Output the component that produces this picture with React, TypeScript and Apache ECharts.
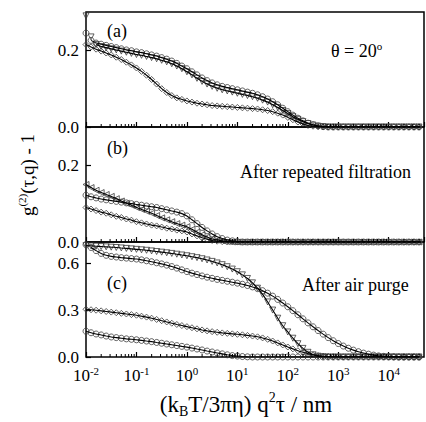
import React, { useEffect, useRef } from "react";
import * as echarts from "echarts";

// log10 of (kBT/3πη) q²τ in nm
const logTau = [
  -2.0, -1.9, -1.8, -1.7, -1.6, -1.5, -1.4, -1.3, -1.2, -1.1,
  -1.0, -0.9, -0.8, -0.7, -0.6, -0.5, -0.4, -0.3, -0.2, -0.1,
  0.0, 0.1, 0.2, 0.3, 0.4, 0.5, 0.6, 0.7, 0.8, 0.9,
  1.0, 1.1, 1.2, 1.3, 1.4, 1.5, 1.6, 1.7, 1.8, 1.9,
  2.0, 2.1, 2.2, 2.3, 2.4, 2.5, 2.6, 2.7, 2.8, 2.9,
  3.0, 3.1, 3.2, 3.3, 3.4, 3.5, 3.6, 3.7, 3.8, 3.9,
  4.0, 4.1, 4.2, 4.3, 4.4, 4.5, 4.6,
];

// Panel (a)
const a1 = [
  0.245, 0.226, 0.219, 0.216, 0.213, 0.210, 0.207, 0.204, 0.201, 0.199,
  0.196, 0.194, 0.191, 0.188, 0.185, 0.181, 0.177, 0.172, 0.166, 0.159,
  0.152, 0.144, 0.136, 0.128, 0.121, 0.115, 0.110, 0.106, 0.103, 0.100,
  0.097, 0.094, 0.091, 0.088, 0.084, 0.079, 0.073, 0.066, 0.058, 0.049,
  0.040, 0.031, 0.023, 0.016, 0.010, 0.006, 0.003, 0.001, 0, 0,
  0, 0, 0, 0, 0, 0, 0, 0, 0, 0,
  0, 0, 0, 0, 0, 0, 0,
];
const a2 = [
  0.290, 0.235, 0.215, 0.210, 0.207, 0.204, 0.201, 0.198, 0.195, 0.192,
  0.189, 0.187, 0.184, 0.181, 0.178, 0.174, 0.170, 0.165, 0.159, 0.152,
  0.144, 0.136, 0.127, 0.119, 0.112, 0.106, 0.101, 0.097, 0.094, 0.091,
  0.088, 0.085, 0.082, 0.079, 0.075, 0.070, 0.065, 0.058, 0.051, 0.043,
  0.035, 0.027, 0.020, 0.014, 0.009, 0.005, 0.002, 0.001, 0, 0,
  0, 0, 0, 0, 0, 0, 0, 0, 0, 0,
  0, 0, 0, 0, 0, 0, 0,
];
const a3 = [
  0.215, 0.209, 0.203, 0.198, 0.193, 0.188, 0.182, 0.176, 0.169, 0.162,
  0.154, 0.145, 0.135, 0.124, 0.112, 0.100, 0.090, 0.082, 0.076, 0.072,
  0.068, 0.065, 0.062, 0.060, 0.058, 0.056, 0.055, 0.054, 0.053, 0.052,
  0.051, 0.050, 0.049, 0.048, 0.047, 0.045, 0.043, 0.040, 0.036, 0.031,
  0.025, 0.019, 0.013, 0.008, 0.004, 0.002, 0.001, 0, 0, 0,
  0, 0, 0, 0, 0, 0, 0, 0, 0, 0,
  0, 0, 0, 0, 0, 0, 0,
];

// Panel (b)
const b1 = [
  0.122, 0.118, 0.115, 0.112, 0.110, 0.108, 0.106, 0.104, 0.102, 0.100,
  0.098, 0.096, 0.094, 0.092, 0.090, 0.087, 0.084, 0.081, 0.078, 0.074,
  0.068, 0.058, 0.048, 0.038, 0.029, 0.021, 0.014, 0.009, 0.005, 0.003,
  0.001, 0, 0, 0, 0, 0, 0, 0, 0, 0,
  0, 0, 0, 0, 0, 0, 0, 0, 0, 0,
  0, 0, 0, 0, 0, 0, 0, 0, 0, 0,
  0, 0, 0, 0, 0, 0, 0,
];
const b2 = [
  0.150, 0.142, 0.135, 0.129, 0.124, 0.119, 0.113, 0.107, 0.101, 0.096,
  0.090, 0.085, 0.080, 0.075, 0.069, 0.063, 0.058, 0.053, 0.048, 0.044,
  0.040, 0.033, 0.026, 0.019, 0.013, 0.008, 0.005, 0.003, 0.001, 0,
  0, 0, 0, 0, 0, 0, 0, 0, 0, 0,
  0, 0, 0, 0, 0, 0, 0, 0, 0, 0,
  0, 0, 0, 0, 0, 0, 0, 0, 0, 0,
  0, 0, 0, 0, 0, 0, 0,
];
const b3 = [
  0.090, 0.086, 0.082, 0.078, 0.075, 0.071, 0.067, 0.064, 0.060, 0.057,
  0.053, 0.050, 0.047, 0.044, 0.042, 0.039, 0.036, 0.034, 0.031, 0.029,
  0.026, 0.021, 0.016, 0.011, 0.007, 0.004, 0.002, 0.001, 0, 0,
  0, 0, 0, 0, 0, 0, 0, 0, 0, 0,
  0, 0, 0, 0, 0, 0, 0, 0, 0, 0,
  0, 0, 0, 0, 0, 0, 0, 0, 0, 0,
  0, 0, 0, 0, 0, 0, 0,
];

// Panel (c)
const c1 = [
  0.712, 0.710, 0.708, 0.706, 0.704, 0.702, 0.700, 0.697, 0.694, 0.691,
  0.688, 0.685, 0.682, 0.678, 0.674, 0.670, 0.666, 0.662, 0.657, 0.652,
  0.647, 0.641, 0.635, 0.628, 0.620, 0.611, 0.601, 0.590, 0.577, 0.562,
  0.545, 0.525, 0.502, 0.474, 0.440, 0.400, 0.352, 0.300, 0.248, 0.200,
  0.160, 0.120, 0.085, 0.055, 0.030, 0.014, 0.005, 0.002, 0, 0,
  0, 0, 0, 0, 0, 0, 0, 0, 0, 0,
  0, 0, 0, 0, 0, 0, 0,
];
const c2 = [
  0.718, 0.700, 0.680, 0.662, 0.650, 0.643, 0.639, 0.635, 0.632, 0.629,
  0.626, 0.621, 0.615, 0.609, 0.602, 0.595, 0.587, 0.578, 0.568, 0.557,
  0.546, 0.536, 0.527, 0.518, 0.510, 0.503, 0.496, 0.490, 0.484, 0.478,
  0.472, 0.465, 0.457, 0.448, 0.437, 0.424, 0.408, 0.389, 0.368, 0.345,
  0.321, 0.296, 0.270, 0.244, 0.218, 0.193, 0.169, 0.146, 0.124, 0.104,
  0.086, 0.070, 0.056, 0.044, 0.034, 0.025, 0.018, 0.012, 0.007, 0.004,
  0.002, 0.001, 0, 0, 0, 0, 0,
];
const c3 = [
  0.305, 0.302, 0.299, 0.295, 0.291, 0.287, 0.283, 0.279, 0.275, 0.271,
  0.267, 0.261, 0.255, 0.248, 0.240, 0.232, 0.224, 0.216, 0.208, 0.201,
  0.194, 0.187, 0.180, 0.173, 0.167, 0.162, 0.158, 0.154, 0.151, 0.148,
  0.145, 0.142, 0.138, 0.134, 0.129, 0.122, 0.113, 0.102, 0.090, 0.077,
  0.064, 0.052, 0.040, 0.030, 0.021, 0.014, 0.009, 0.005, 0.003, 0.001,
  0, 0, 0, 0, 0, 0, 0, 0, 0, 0,
  0, 0, 0, 0, 0, 0, 0,
];
const c4 = [
  0.165, 0.155, 0.147, 0.141, 0.134, 0.128, 0.124, 0.120, 0.116, 0.113,
  0.110, 0.106, 0.102, 0.098, 0.093, 0.088, 0.083, 0.078, 0.073, 0.068,
  0.063, 0.057, 0.051, 0.045, 0.038, 0.032, 0.026, 0.020, 0.014, 0.009,
  0.006, 0.003, 0.001, 0, 0, 0, 0, 0, 0, 0,
  0, 0, 0, 0, 0, 0, 0, 0, 0, 0,
  0, 0, 0, 0, 0, 0, 0, 0, 0, 0,
  0, 0, 0, 0, 0, 0, 0,
];

const yMax = [0.3, 0.3, 0.735];
const yInterval = [0.2, 0.2, 0.3];
const xMin = 0.01;
const xMax = 50000;

const FONT = '"Liberation Serif", "Times New Roman", serif';

function buildMinorTicks(): number[] {
  const out: number[] = [];
  for (let k = -2; k <= 4; k++) {
    for (let m = 2; m <= 9; m++) {
      const v = m * Math.pow(10, k);
      if (v < xMax) out.push(v);
    }
  }
  return out;
}

export default function App() {
  const ref = useRef<HTMLDivElement>(null);

  useEffect(() => {
    const chart = echarts.init(ref.current!, null, { renderer: "svg" });

    const grids = [0, 1, 2].map((i) => ({
      left: 86,
      top: 12 + i * 115,
      width: 338,
      height: 115,
      show: true,
      borderColor: "#000",
      borderWidth: 1.5,
      backgroundColor: "transparent",
    }));

    const xAxes = [0, 1, 2].map((i) => ({
      type: "log",
      logBase: 10,
      gridIndex: i,
      min: xMin,
      max: xMax,
      axisLine: { show: false },
      axisTick: { show: true, inside: true, length: 5, lineStyle: { color: "#000", width: 1.2 } },
      splitLine: { show: false },
      axisLabel: {
        show: i === 2,
        margin: 8,
        showMaxLabel: false,
        color: "#000",
        formatter: (v: number) => `{b|10}{s|${Math.round(Math.log10(v))}}`,
        rich: {
          b: { fontFamily: FONT, fontSize: 17, lineHeight: 20, color: "#000" },
          s: { fontFamily: FONT, fontSize: 11, lineHeight: 11, verticalAlign: "top", color: "#000" },
        },
      },
    }));

    const yAxes = [0, 1, 2].map((i) => ({
      type: "value",
      gridIndex: i,
      min: 0,
      max: yMax[i],
      interval: yInterval[i],
      axisLine: { show: false },
      axisTick: { show: true, inside: true, length: 5, lineStyle: { color: "#000", width: 1.2 } },
      splitLine: { show: false },
      axisLabel: {
        margin: 7,
        showMaxLabel: false,
        color: "#000",
        fontFamily: FONT,
        fontSize: 17,
        formatter: (v: number) => v.toFixed(1),
      },
    }));

    const pts = (vals: number[]) => logTau.map((e, i) => [Math.pow(10, e), vals[i]]);

    // data markers
    const marks = (vals: number[], idx: number, symbol: string, rotate: number) => ({
      type: "scatter",
      xAxisIndex: idx,
      yAxisIndex: idx,
      data: pts(vals),
      symbol,
      symbolSize: 6,
      symbolRotate: rotate,
      silent: true,
      z: 2,
      emphasis: { disabled: true },
      itemStyle: { color: "rgba(0,0,0,0)", borderColor: "#3a3a3a", borderWidth: 0.8, opacity: 1 },
    });

    // fitted curves (skip leading outlier points)
    const fit = (vals: number[], idx: number, from: number) => ({
      type: "line",
      xAxisIndex: idx,
      yAxisIndex: idx,
      data: pts(vals).slice(from),
      showSymbol: false,
      smooth: 0.2,
      silent: true,
      z: 3,
      emphasis: { disabled: true },
      lineStyle: { color: "#000", width: 1.1 },
    });

    const minor = buildMinorTicks();
    const minorSeries = [0, 1, 2].map((i) => ({
      type: "custom",
      xAxisIndex: i,
      yAxisIndex: i,
      silent: true,
      clip: false,
      z: 5,
      data: minor.map((v) => [v, 0]),
      renderItem: (_p: any, api: any) => {
        const p = api.coord([api.value(0), 0]);
        return {
          type: "line",
          shape: { x1: p[0], y1: p[1], x2: p[0], y2: p[1] - 3 },
          style: { stroke: "#000", lineWidth: 1 },
        };
      },
    }));

    const txt = (text: string, x: number, y: number) => ({
      type: "text",
      x,
      y,
      silent: true,
      style: {
        text,
        fill: "#000",
        font: `18px ${FONT}`,
        align: "left",
        verticalAlign: "middle",
      },
    });

    const option: any = {
      animation: false,
      backgroundColor: "#fff",
      grid: grids,
      xAxis: xAxes,
      yAxis: yAxes,
      series: [
        marks(a1, 0, "circle", 0),
        marks(a2, 0, "triangle", 180),
        marks(a3, 0, "diamond", 0),
        marks(b1, 1, "circle", 0),
        marks(b2, 1, "triangle", 90),
        marks(b3, 1, "diamond", 0),
        marks(c1, 2, "triangle", 180),
        marks(c2, 2, "circle", 0),
        marks(c3, 2, "diamond", 0),
        marks(c4, 2, "circle", 0),
        fit(a1, 0, 1),
        fit(a2, 0, 2),
        fit(a3, 0, 0),
        fit(b1, 1, 0),
        fit(b2, 1, 0),
        fit(b3, 1, 0),
        fit(c1, 2, 0),
        fit(c2, 2, 1),
        fit(c3, 2, 0),
        fit(c4, 2, 0),
        ...minorSeries,
      ],
      graphic: [
        txt("(a)", 107, 31),
        {
          type: "text",
          x: 331,
          y: 51,
          silent: true,
          style: {
            text: "{a|θ = 20}{s|o}",
            align: "left",
            verticalAlign: "middle",
            fill: "#000",
            rich: {
              a: { fontFamily: FONT, fontSize: 18, lineHeight: 22, fill: "#000" },
              s: { fontFamily: FONT, fontSize: 11, lineHeight: 12, verticalAlign: "top", fill: "#000" },
            },
          },
        },
        txt("(b)", 107, 148),
        txt("After repeated filtration", 240, 172),
        txt("(c)", 107, 283),
        txt("After air purge", 302, 285),
        {
          type: "text",
          x: 27,
          y: 175,
          rotation: Math.PI / 2,
          silent: true,
          style: {
            text: "{a|g}{s|(2)}{a|(τ,q) - 1}",
            align: "center",
            verticalAlign: "middle",
            fill: "#000",
            rich: {
              a: { fontFamily: FONT, fontSize: 19, lineHeight: 22, fill: "#000" },
              s: { fontFamily: FONT, fontSize: 11, lineHeight: 11, verticalAlign: "top", fill: "#000" },
            },
          },
        },
        {
          type: "text",
          x: 246,
          y: 404,
          silent: true,
          style: {
            text: "{a|(k}{sub|B}{a|T/3πη) q}{sup|2}{a|τ / nm}",
            align: "center",
            verticalAlign: "middle",
            fill: "#000",
            rich: {
              a: { fontFamily: FONT, fontSize: 23, lineHeight: 28, fill: "#000" },
              sub: { fontFamily: FONT, fontSize: 14, lineHeight: 12, verticalAlign: "bottom", fill: "#000" },
              sup: { fontFamily: FONT, fontSize: 14, lineHeight: 14, verticalAlign: "top", fill: "#000" },
            },
          },
        },
      ],
    };

    chart.setOption(option);
    return () => chart.dispose();
  }, []);

  return (
    <div
      ref={ref}
      style={{ position: "fixed", left: 0, top: 0, width: 426, height: 422 }}
    />
  );
}
